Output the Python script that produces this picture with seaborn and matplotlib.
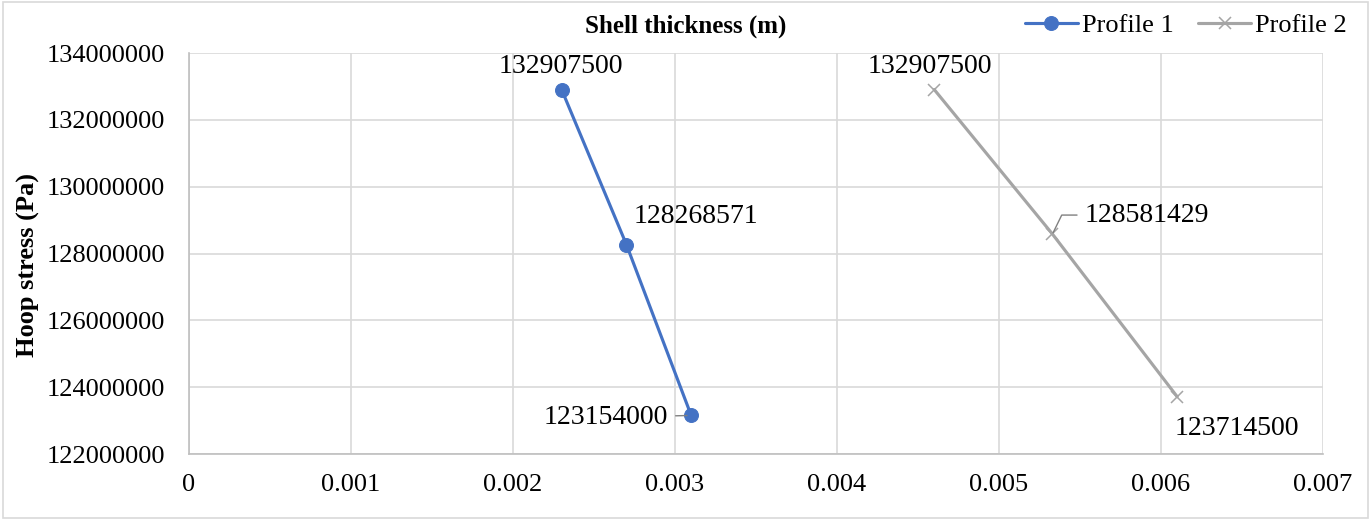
import matplotlib
matplotlib.use("Agg")
import matplotlib.pyplot as plt
import seaborn as sns
import pandas as pd
from matplotlib.patches import Rectangle

sns.set_theme(style="whitegrid")
plt.rcParams['font.family'] = ['Liberation Serif', 'DejaVu Serif']
plt.rcParams['text.color'] = 'black'
plt.rcParams['axes.labelcolor'] = 'black'

profile1_x = [0.0023, 0.0027, 0.0031]
profile1_y = [132907500, 128268571, 123154000]
profile2_x = [0.0046, 0.00533, 0.0061]
profile2_y = [132907500, 128581429, 123714500]
series_names = ["Profile 1", "Profile 2"]
x_ticks = [0, 0.001, 0.002, 0.003, 0.004, 0.005, 0.006, 0.007]
x_tick_labels = ["0", "0.001", "0.002", "0.003", "0.004", "0.005", "0.006", "0.007"]
y_ticks = [122000000, 124000000, 126000000, 128000000, 130000000, 132000000, 134000000]

df = pd.DataFrame({
    "x": profile1_x + profile2_x,
    "y": profile1_y + profile2_y,
    "series": [series_names[0]] * 3 + [series_names[1]] * 3,
})

fig = plt.figure(figsize=(13.71, 5.2), dpi=100)
ax = fig.add_axes([189/1371, 1-454/520, (1323-189)/1371, (454-53)/520])

colors = {"Profile 1": "#4472C4", "Profile 2": "#A5A5A5"}
sns.lineplot(data=df[df.series == "Profile 1"], x="x", y="y", color=colors["Profile 1"],
             marker="o", markersize=10, linewidth=2.25, ax=ax, label="Profile 1",
             markeredgecolor=colors["Profile 1"])
sns.lineplot(data=df[df.series == "Profile 2"], x="x", y="y", color=colors["Profile 2"],
             marker="x", markersize=9, linewidth=2.25, ax=ax, label="Profile 2",
             markeredgecolor=colors["Profile 2"], markeredgewidth=1.1)

ax.set_xlim(0, 0.007)
ax.set_ylim(122000000, 134000000)
ax.set_xticks(x_ticks)
ax.set_xticklabels(x_tick_labels)
ax.set_yticks(y_ticks)
ax.set_yticklabels([str(v) for v in y_ticks])
ax.tick_params(axis="both", labelsize=19, colors="#000000", length=0)
ax.tick_params(axis="y", pad=17)
ax.tick_params(axis="x", pad=14.5)
ax.grid(True, color="#d9d9d9", linewidth=1.2)
for s in ["top", "right"]:
    ax.spines[s].set_visible(False)
for s in ["left", "bottom"]:
    ax.spines[s].set_color("#bfbfbf")
    ax.spines[s].set_linewidth(1.2)

ax.set_xlabel("")
ax.set_ylabel("")
fig.text(28/1371, 1-265/520, "Hoop stress (Pa)", ha="center", va="center",
         rotation=90, fontsize=19, fontweight="bold")
fig.text(686/1371, 1-26/520, "Shell thickness (m)", ha="center", va="center",
         fontsize=18, fontweight="bold")

fs = 20
k = 0.72  # px -> pt at 100 dpi
# Profile 1 labels
ax.annotate(str(profile1_y[0]), (profile1_x[0], profile1_y[0]), xytext=(-1*k, 23*k),
            textcoords="offset points", ha="center", va="center", fontsize=fs)
ax.annotate(str(profile1_y[1]), (profile1_x[1], profile1_y[1]), xytext=(7*k, 28*k),
            textcoords="offset points", ha="left", va="center", fontsize=fs)
ax.annotate(str(profile1_y[2]), (profile1_x[2], profile1_y[2]), xytext=(-23*k, -2*k),
            textcoords="offset points", ha="right", va="center", fontsize=fs,
            arrowprops=dict(arrowstyle="-", color="#808080", lw=1, shrinkA=3, shrinkB=3))
# Profile 2 labels
ax.annotate(str(profile2_y[0]), (profile2_x[0], profile2_y[0]), xytext=(-4*k, 23*k),
            textcoords="offset points", ha="center", va="center", fontsize=fs)
ax.annotate(str(profile2_y[1]), (profile2_x[1], profile2_y[1]), xytext=(32*k, 19*k),
            textcoords="offset points", ha="left", va="center", fontsize=fs,
            arrowprops=dict(arrowstyle="-", color="#808080", lw=1, shrinkA=3, shrinkB=1,
                            connectionstyle="angle,angleA=0,angleB=64,rad=0"))
ax.annotate(str(profile2_y[2]), (profile2_x[2], profile2_y[2]), xytext=(-3*k, -32*k),
            textcoords="offset points", ha="left", va="center", fontsize=fs)

leg = ax.legend(loc="center right", bbox_to_anchor=(1 - 11/1371, 1-25/520),
                bbox_transform=fig.transFigure, ncol=2, frameon=False, fontsize=19,
                handlelength=2.0, handletextpad=0.15, columnspacing=0.95,
                borderpad=0.2, borderaxespad=0.3)

fig.patches.append(Rectangle((0.002, 0.003), 0.996, 0.994, transform=fig.transFigure,
                             fill=False, edgecolor="#d9d9d9", linewidth=1.2))

fig.savefig("out.png", dpi=100)
